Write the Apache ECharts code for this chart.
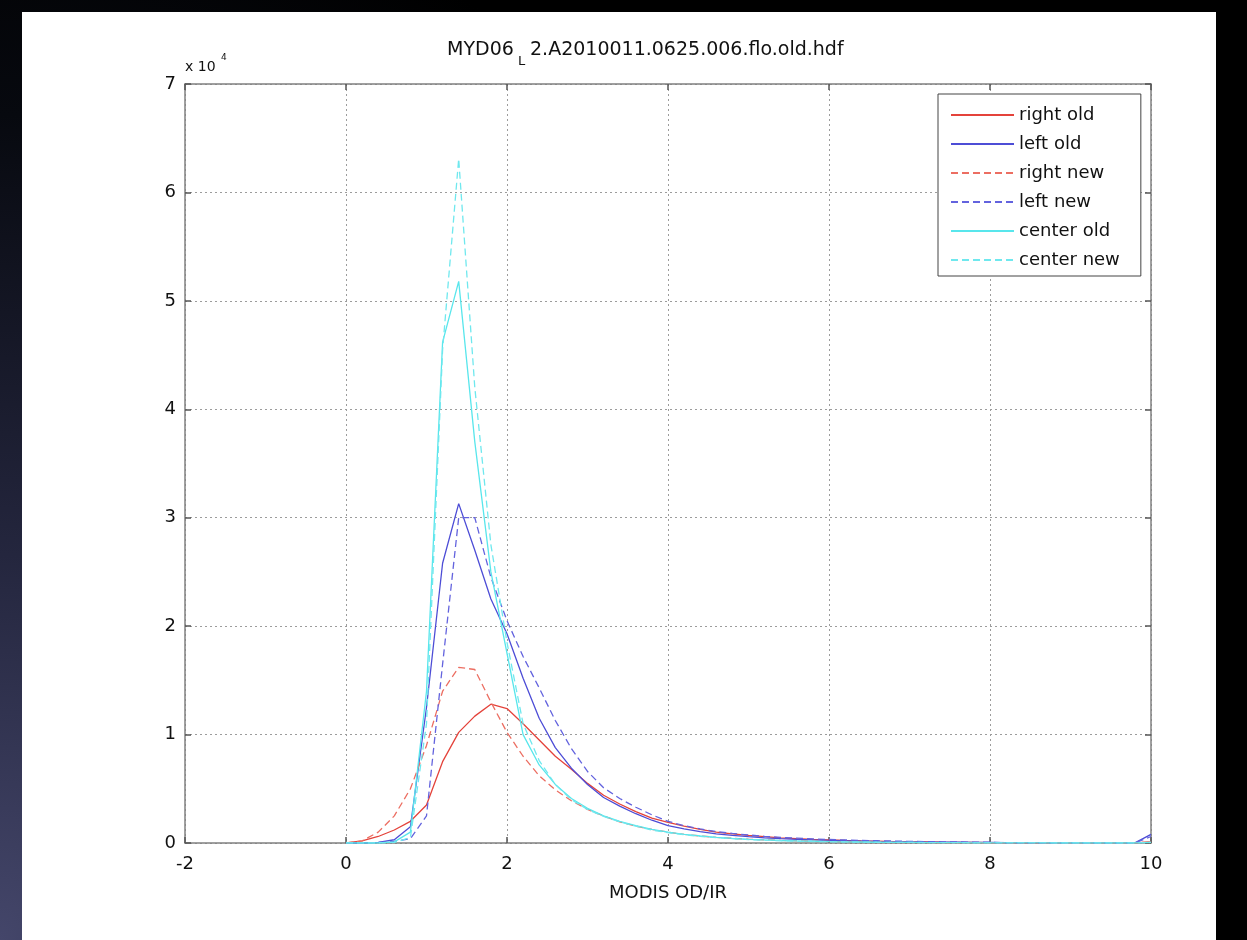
<!DOCTYPE html>
<html>
<head>
<meta charset="utf-8">
<script src="https://cdn.jsdelivr.net/npm/echarts@6/dist/echarts.min.js"></script>
<style>
html,body{margin:0;padding:0;width:1247px;height:940px;overflow:hidden;}
body{background:radial-gradient(ellipse 900px 1100px at 0% 100%, #44466a 0%, #24263e 35%, #07090f 75%, #000 100%);}
#panel{position:absolute;left:22px;top:12px;width:1194px;height:928px;background:#fff;}
#chart{position:absolute;left:0;top:0;width:1247px;height:940px;}
</style>
</head>
<body>
<div id="panel"></div>
<div id="chart"></div>
<script>
// Bin centres (MODIS OD/IR)
const xBins = [0,0.2,0.4,0.6,0.8,1.0,1.2,1.4,1.6,1.8,2.0,2.2,2.4,2.6,2.8,3.0,3.2,3.4,3.6,3.8,4.0,4.2,4.4,4.6,4.8,5.0,5.2,5.4,5.6,5.8,6.0,6.2,6.4,6.6,6.8,7.0,7.2,7.4,7.6,7.8,8.0,8.2,8.4,8.6,8.8,9.0,9.2,9.4,9.6,9.8,10.0];

// Counts per bin
const rightOld = [0,200,600,1200,2000,3500,7500,10200,11700,12800,12400,11000,9500,8000,6800,5500,4400,3600,2900,2300,1900,1550,1250,1000,850,700,580,480,400,330,280,230,190,160,130,110,90,70,60,50,40,30,20,20,10,10,10,0,0,0,100];
const leftOld = [0,0,50,300,1500,12500,25800,31300,27000,22500,19300,15200,11500,8800,6900,5400,4200,3400,2700,2100,1600,1300,1050,850,700,580,480,400,340,290,250,210,180,150,130,110,90,80,70,60,50,40,30,30,20,20,10,10,10,10,800];
const rightNew = [0,200,1000,2500,5000,9000,14000,16200,16000,13000,10200,8000,6200,4900,3900,3100,2500,1950,1550,1250,1000,800,650,520,430,350,290,240,200,170,140,120,100,80,70,60,50,40,30,30,20,20,10,10,10,0,0,0,0,0,100];
const leftNew = [0,0,50,150,400,2500,16500,30000,30000,24500,20500,17200,14300,11300,8700,6600,5100,4100,3300,2600,2000,1600,1300,1050,880,740,620,520,450,380,330,280,240,210,180,150,130,110,100,80,70,30,20,10,10,10,0,0,0,0,600];
const centerOld = [0,0,0,100,1000,14000,46200,51800,37000,25000,17500,10000,7200,5400,4100,3200,2500,2000,1600,1250,1000,800,650,520,420,340,280,230,190,160,130,110,90,70,60,50,40,30,30,20,20,10,10,10,0,0,0,0,0,0,50];
const centerNew = [0,0,0,50,500,11000,45500,63100,42000,27500,18500,11000,7600,5400,4000,3100,2450,1950,1550,1200,950,760,610,490,400,320,260,210,170,140,120,100,80,70,60,50,40,30,30,20,20,10,10,10,0,0,0,0,0,0,50];

const seriesNames = ['right old','left old','right new','left new','center old','center new'];
const seriesValues = [rightOld, leftOld, rightNew, leftNew, centerOld, centerNew];
const seriesColors = ['#e4433b','#4d4dd6','#ec6e62','#6363de','#58e6ec','#6fe8ee'];
const seriesDashed = [false,false,true,true,false,true];

const xTicks = {min:-2, max:10, interval:2};
const yTicks = {min:0, max:70000, interval:10000, scale:10000};

const FONT = 'DejaVu Sans';
const AXIS_GRAY = '#808080';

const chart = echarts.init(document.getElementById('chart'), null, {renderer:'canvas'});

function pairs(vals){ return xBins.map((x,i)=>[x, vals[i]]); }

const series = seriesNames.map((name,k)=>({
  name: name,
  type: 'line',
  data: pairs(seriesValues[k]),
  symbol: 'none',
  showSymbol: false,
  smooth: false,
  animation: false,
  color: seriesColors[k],
  lineStyle: {color: seriesColors[k], width: 1.3, type: seriesDashed[k] ? [7,4] : 'solid'},
  z: 2 + k
}));

const tickStyle = {show:true, inside:true, length:6, lineStyle:{color:'#555', width:1.5}};
const gridLine = {show:true, lineStyle:{color:'#9c9c9c', width:1, type:[2,3]}};

chart.setOption({
  backgroundColor: 'transparent',
  animation: false,
  grid: {left:185, top:84, width:966, height:759, containLabel:false},
  xAxis: [
    {type:'value', position:'bottom', min:xTicks.min, max:xTicks.max, interval:xTicks.interval,
     axisLine:{show:true, onZero:false, lineStyle:{color:AXIS_GRAY, width:1.5}},
     axisTick: tickStyle,
     axisLabel:{show:true, margin:12, fontFamily:FONT, fontSize:18, color:'#111', showMinLabel:true, showMaxLabel:true},
     splitLine: gridLine,
     name:'MODIS OD/IR', nameLocation:'middle', nameGap:41,
     nameTextStyle:{fontFamily:FONT, fontSize:18, color:'#111'}},
    {type:'value', position:'top', min:xTicks.min, max:xTicks.max, interval:xTicks.interval,
     axisLine:{show:true, onZero:false, lineStyle:{color:AXIS_GRAY, width:1.5}},
     axisTick: tickStyle, axisLabel:{show:false}, splitLine:{show:false}}
  ],
  yAxis: [
    {type:'value', position:'left', min:yTicks.min, max:yTicks.max, interval:yTicks.interval,
     axisLine:{show:true, onZero:false, lineStyle:{color:AXIS_GRAY, width:1.5}},
     axisTick: tickStyle,
     axisLabel:{show:true, margin:9, fontFamily:FONT, fontSize:18, color:'#111',
       formatter: v => String(Math.round(v / yTicks.scale))},
     splitLine: gridLine},
    {type:'value', position:'right', min:yTicks.min, max:yTicks.max, interval:yTicks.interval,
     axisLine:{show:true, onZero:false, lineStyle:{color:AXIS_GRAY, width:1.5}},
     axisTick: tickStyle, axisLabel:{show:false}, splitLine:{show:false}}
  ],
  legend: {
    show:true, orient:'vertical', left:938, top:94,
    padding:[11,21,6,12], itemGap:9, itemWidth:63, itemHeight:20,
    backgroundColor:'#fff', borderColor:'#444', borderWidth:1, borderRadius:0,
    itemStyle:{opacity:0},
    textStyle:{fontFamily:FONT, fontSize:18, color:'#111', lineHeight:20},
    data: seriesNames,
    selectedMode:false
  },
  graphic: [
    {type:'text', left:447, top:41, style:{text:'MYD06', font:'19px "DejaVu Sans"', fill:'#111'}},
    {type:'text', left:518, top:55, style:{text:'L', font:'13px "DejaVu Sans"', fill:'#111'}},
    {type:'text', left:530, top:41, style:{text:'2.A2010011.0625.006.flo.old.hdf', font:'19px "DejaVu Sans"', fill:'#111'}},
    {type:'text', left:185, top:60, style:{text:'x 10', font:'14px "DejaVu Sans"', fill:'#111'}},
    {type:'text', left:221, top:53, style:{text:'4', font:'9px "DejaVu Sans"', fill:'#111'}}
  ],
  series: series
});
</script>
</body>
</html>
